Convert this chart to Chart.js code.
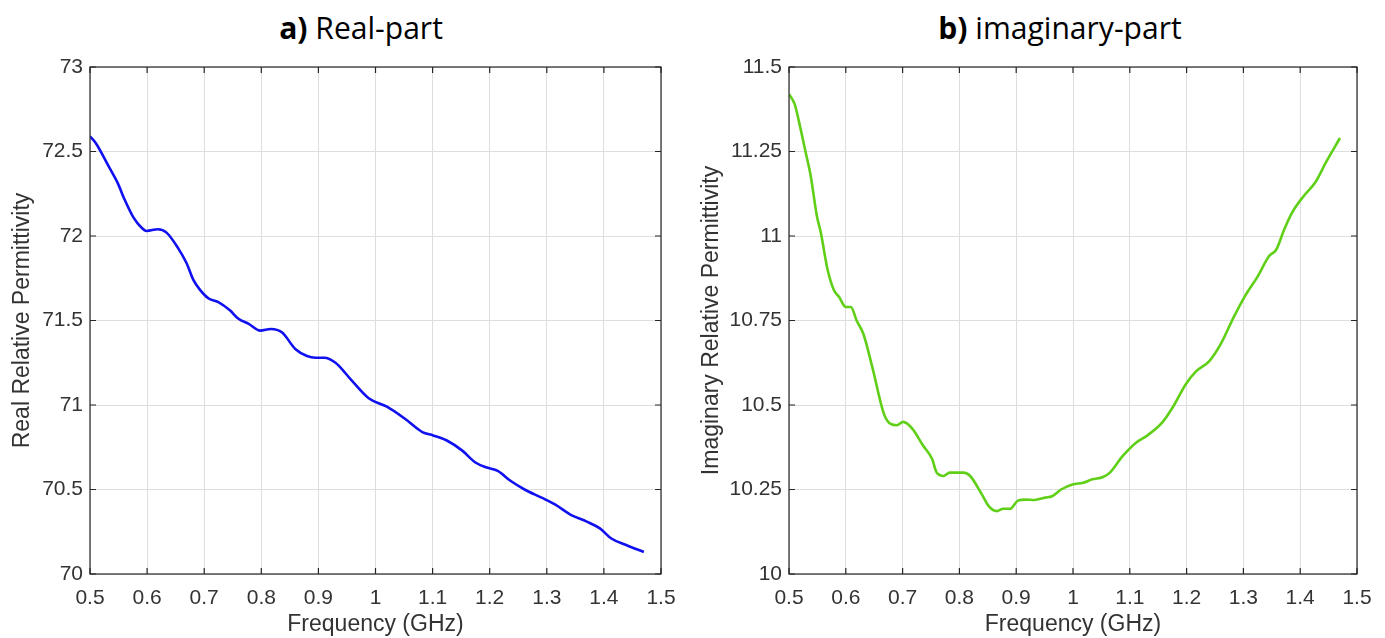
<!DOCTYPE html>
<html>
<head>
<meta charset="utf-8">
<script src="https://cdn.jsdelivr.net/npm/chart.js@4"></script>
<style>
  body { margin: 0; background: #fff; width: 1385px; height: 638px; overflow: hidden; position: relative; }
  .pane { position: absolute; top: 0; height: 638px; }
  .ttl { position: absolute; top: 6px; font-family: "Open Sans", sans-serif; font-size: 31px; color: #000; white-space: nowrap; transform: translateX(-50%) scaleX(0.97); }
  .ttl b { font-weight: 700; }
</style>
</head>
<body>
<div class="ttl" style="left:361px"><b>a)</b> Real-part</div>
<div class="ttl" style="left:1060px"><b>b)</b> imaginary-part</div>
<div class="pane" style="left:0;width:692px"><canvas id="realChart"></canvas></div>
<div class="pane" style="left:692px;width:693px"><canvas id="imagChart"></canvas></div>
<script>
// values
const xTicks = [0.5, 0.6, 0.7, 0.8, 0.9, 1, 1.1, 1.2, 1.3, 1.4, 1.5];
const realTicks = [70, 70.5, 71, 71.5, 72, 72.5, 73];
const imagTicks = [10, 10.25, 10.5, 10.75, 11, 11.25, 11.5];

const realFreq = [0.50, 0.51, 0.533, 0.549, 0.56, 0.576, 0.59, 0.599, 0.619, 0.634, 0.654, 0.669, 0.681, 0.693, 0.708,
  0.724, 0.745, 0.76, 0.778, 0.798, 0.817, 0.836, 0.86, 0.88, 0.895, 0.91, 0.93, 0.957, 0.988, 1.02, 1.051, 1.082,
  1.101, 1.125, 1.152, 1.175, 1.195, 1.214, 1.237, 1.261, 1.292, 1.315, 1.342, 1.37, 1.393, 1.413, 1.44, 1.47];
const realVals = [72.59, 72.55, 72.41, 72.31, 72.22, 72.11, 72.05, 72.03, 72.04, 72.02, 71.93, 71.84, 71.74, 71.68, 71.63,
  71.61, 71.56, 71.51, 71.48, 71.44, 71.45, 71.43, 71.33, 71.29, 71.28, 71.28, 71.25, 71.15, 71.04, 70.99, 70.92, 70.84,
  70.82, 70.79, 70.73, 70.66, 70.63, 70.61, 70.55, 70.50, 70.45, 70.41, 70.35, 70.31, 70.27, 70.21, 70.17, 70.13];

const imagFreq = [0.50, 0.51, 0.52, 0.529, 0.538, 0.549, 0.556, 0.568, 0.579, 0.588, 0.60, 0.609, 0.619, 0.631, 0.647,
  0.668, 0.69, 0.701, 0.717, 0.736, 0.752, 0.76, 0.772, 0.783, 0.807, 0.819, 0.838, 0.852, 0.866, 0.877, 0.889, 0.903,
  0.916, 0.932, 0.951, 0.963, 0.979, 0.999, 1.018, 1.034, 1.053, 1.065, 1.088, 1.112, 1.131, 1.158, 1.178, 1.198, 1.217,
  1.24, 1.26, 1.283, 1.302, 1.325, 1.345, 1.358, 1.372, 1.386, 1.407, 1.427, 1.446, 1.47];
const imagVals = [11.42, 11.39, 11.32, 11.25, 11.18, 11.06, 11.01, 10.90, 10.84, 10.82, 10.79, 10.79, 10.75, 10.71, 10.61,
  10.47, 10.44, 10.45, 10.43, 10.38, 10.34, 10.30, 10.29, 10.30, 10.30, 10.29, 10.24, 10.20, 10.186, 10.193, 10.193, 10.217,
  10.22, 10.219, 10.226, 10.23, 10.25, 10.265, 10.27, 10.28, 10.287, 10.30, 10.35, 10.39, 10.41, 10.45, 10.50, 10.56, 10.60,
  10.63, 10.68, 10.76, 10.82, 10.88, 10.94, 10.96, 11.02, 11.07, 11.12, 11.16, 11.22, 11.29];

const axisColor = '#262626';
const textColor = '#333333';
const gridColor = '#dedede';
const font = 'Liberation Sans';

// MATLAB-like box with inward ticks
const boxPlugin = {
  id: 'box',
  afterDatasetsDraw(chart) {
    const {ctx, chartArea: a, scales} = chart;
    ctx.save();
    ctx.strokeStyle = axisColor;
    ctx.lineWidth = 1.2;
    ctx.strokeRect(a.left, a.top, a.right - a.left, a.bottom - a.top);
    ctx.beginPath();
    scales.x.ticks.forEach(t => {
      const px = scales.x.getPixelForValue(t.value);
      ctx.moveTo(px, a.bottom); ctx.lineTo(px, a.bottom - 6);
      ctx.moveTo(px, a.top); ctx.lineTo(px, a.top + 6);
    });
    scales.y.ticks.forEach(t => {
      const py = scales.y.getPixelForValue(t.value);
      ctx.moveTo(a.left, py); ctx.lineTo(a.left + 6, py);
      ctx.moveTo(a.right, py); ctx.lineTo(a.right - 6, py);
    });
    ctx.stroke();
    ctx.restore();
  }
};

function makeChart(id, freq, vals, color, yTicks, yTitle, yWidth, rightPad, yTitlePad) {
  new Chart(document.getElementById(id), {
    type: 'line',
    data: {
      datasets: [{
        data: freq.map((f, i) => ({x: f, y: vals[i]})),
        borderColor: color,
        borderWidth: 2.6,
        pointRadius: 0,
        cubicInterpolationMode: 'monotone',
        fill: false
      }]
    },
    options: {
      responsive: true,
      maintainAspectRatio: false,
      animation: false,
      layout: {padding: {top: 67, right: rightPad, left: 0, bottom: 0}},
      plugins: {legend: {display: false}, tooltip: {enabled: false}},
      scales: {
        x: {
          type: 'linear', min: 0.5, max: 1.5,
          afterBuildTicks: s => { s.ticks = xTicks.map(v => ({value: v})); },
          afterFit: s => { s.height = 64; },
          grid: {color: gridColor, drawTicks: false},
          border: {display: false},
          ticks: {padding: 12, color: textColor, font: {family: font, size: 21}, maxRotation: 0, autoSkip: false,
            callback: v => String(v)},
          title: {display: true, text: 'Frequency (GHz)', color: textColor, font: {family: font, size: 23}, padding: 0}
        },
        y: {
          min: yTicks[0], max: yTicks[yTicks.length - 1],
          afterBuildTicks: s => { s.ticks = yTicks.map(v => ({value: v})); },
          afterFit: s => { s.width = yWidth; },
          grid: {color: gridColor, drawTicks: false},
          border: {display: false},
          ticks: {padding: 7, color: textColor, font: {family: font, size: 21}, autoSkip: false,
            callback: v => String(v)},
          title: {display: true, text: yTitle, color: textColor, font: {family: font, size: 23}, padding: {top: yTitlePad, bottom: 0}}
        }
      }
    },
    plugins: [boxPlugin]
  });
}

makeChart('realChart', realFreq, realVals, '#1010f0', realTicks, 'Real Relative Permittivity', 90, 31, 9);
makeChart('imagChart', imagFreq, imagVals, '#5fcf17', imagTicks, 'Imaginary Relative Permittivity', 97, 28, 6);
</script>
</body>
</html>
